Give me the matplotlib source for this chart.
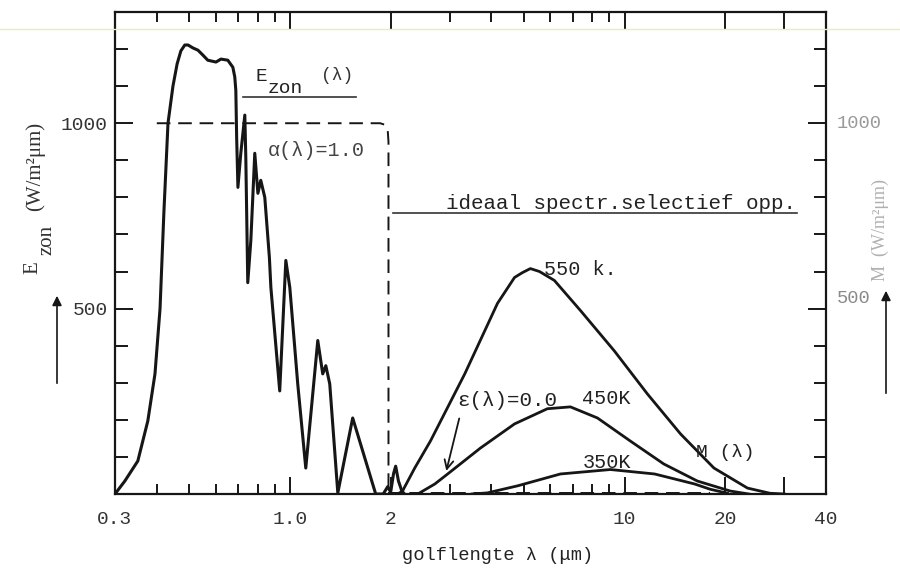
import matplotlib.pyplot as plt
from matplotlib.lines import Line2D

plt.rcParams['font.family'] = ['Liberation Mono', 'DejaVu Sans']

# solar spectrum E_zon (W/m2 um)
sun_lam = [0.300, 0.321, 0.351, 0.376, 0.395, 0.409, 0.420, 0.432, 0.447, 0.460,
           0.472, 0.485, 0.496, 0.513, 0.531, 0.549, 0.568, 0.601, 0.622, 0.652,
           0.675, 0.684, 0.689, 0.693, 0.699, 0.713, 0.733, 0.738, 0.748, 0.764,
           0.785, 0.802, 0.818, 0.841, 0.868, 0.877, 0.932, 0.972, 0.999, 1.055,
           1.115, 1.211, 1.253, 1.280, 1.315, 1.390, 1.540, 1.804, 1.900, 1.960,
           2.000, 2.040, 2.070, 2.110, 2.160, 2.200]
sun_val = [0, 35, 89, 197, 324, 500, 760, 1000, 1100, 1160,
           1195, 1211, 1211, 1203, 1197, 1184, 1170, 1165, 1173, 1170,
           1151, 1125, 1089, 960, 827, 919, 1022, 908, 570, 684,
           919, 811, 846, 800, 638, 557, 278, 630, 557, 297,
           70, 414, 324, 346, 297, 3, 205, 0, 0, 20,
           5, 55, 75, 35, 8, 0]

# ideal selective surface: alpha = 1.0 below ~2 um, eps = 0.0 above
alpha_lam = [0.40, 1.86, 1.92, 1.96, 1.97, 1.97]
alpha_val = [1000, 1000, 996, 980, 950, 0]
eps_lam = [1.97, 18.0]
eps_val = [4, 4]

# black body emission M(lambda)
bb550_lam = [2.10, 2.17, 2.36, 2.63, 3.33, 4.17, 4.69, 4.95, 5.23, 5.57, 6.17,
             7.38, 9.32, 11.7, 14.7, 18.5, 23.3, 27.2, 30.0]
bb550_val = [0, 8, 70, 143, 324, 514, 584, 597, 608, 600, 576,
             495, 386, 270, 162, 70, 16, 2, 0]
bb450_lam = [2.41, 2.71, 2.96, 3.71, 4.69, 5.88, 6.89, 8.3, 10.4, 13.1, 16.5, 20.7, 23.5]
bb450_val = [0, 27, 54, 124, 189, 230, 235, 205, 143, 81, 35, 8, 0]
bb350_lam = [3.5, 3.89, 4.79, 6.43, 9.07, 12.3, 16.2, 18.0, 20.3]
bb350_val = [0, 3, 22, 54, 66, 54, 27, 13, 2]

x_major = [0.3, 1, 2, 10, 20, 30, 40]
x_labels = ['0.3', '1.0', '2', '10', '20', '', '40']
x_minor = [0.4, 0.5, 0.6, 0.7, 0.8, 0.9, 3, 4, 5, 6, 7, 8, 9]

ink = '#161616'
fig = plt.figure(figsize=(9, 5.73), dpi=100)
ax = fig.add_axes([115 / 900, 79 / 573, 711 / 900, 482 / 573])

ax.plot(sun_lam, sun_val, color=ink, lw=2.2, solid_joinstyle='round')
ax.plot(alpha_lam, alpha_val, color=ink, lw=1.4, ls=(0, (7, 4)))
ax.plot(eps_lam, eps_val, color=ink, lw=1.4, ls=(0, (7, 4)))
ax.plot(bb550_lam, bb550_val, color=ink, lw=2.0)
ax.plot(bb450_lam, bb450_val, color=ink, lw=2.0)
ax.plot(bb350_lam, bb350_val, color=ink, lw=2.0)

ax.set_xscale('log')
ax.set_xlim(0.3, 40)
ax.set_ylim(0, 1300)
ax.set_xticks(x_major, x_labels)
ax.set_xticks(x_minor, minor=True)
ax.xaxis.set_minor_formatter(plt.NullFormatter())
ax.set_yticks([500, 1000], ['500', '1000'])
ax.set_yticks(range(100, 1300, 100), minor=True)

ax.tick_params(which='both', direction='in', top=True, right=True, width=1.4, color=ink)
ax.tick_params(axis='x', which='major', length=12, pad=12, labelsize=14, labelcolor='#333333')
ax.tick_params(axis='x', which='minor', length=7)
ax.tick_params(axis='y', which='major', length=13, pad=5, labelsize=14, labelcolor='#333333')
ax.tick_params(axis='y', which='minor', length=9)
for s in ax.spines.values():
    s.set_linewidth(1.6)
    s.set_color(ink)

# labels inside the plot
ax.text(0.791, 1127, 'E', fontsize=14, va='center', color='#222222')
ax.text(0.859, 1093, 'zon', fontsize=14, va='center', color='#222222')
ax.text(1.236, 1130, '(λ)', fontsize=13, va='center', color='#333333')
ax.plot([0.723, 1.575], [1070, 1070], color='#333333', lw=1.2)
ax.text(0.859, 927, 'α(λ)=1.0', fontsize=14.5, va='center', color='#444444')
ax.text(2.92, 784, 'ideaal spectr.selectief opp.', fontsize=15, va='center', color='#222222')
ax.plot([2.03, 32.8], [757, 757], color='#333333', lw=1.2)
ax.text(5.76, 605, '550 k.', fontsize=14.5, va='center', color='#222222')
ax.text(3.17, 251, 'ε(λ)=0.0', fontsize=15, va='center', color='#222222')
ax.text(7.48, 257, '450K', fontsize=14.5, va='center', color='#222222')
ax.text(7.48, 86, '350K', fontsize=14.5, va='center', color='#222222')
ax.text(16.3, 111, 'M (λ)', fontsize=14, va='center', color='#222222')
ax.annotate('', xy=(2.92, 55), xytext=(3.22, 211),
            arrowprops=dict(arrowstyle='->', color=ink, lw=1.3, mutation_scale=16))

# right hand scale (faint)
ytr = ax.get_yaxis_transform()
ax.text(1.015, 1000, '1000', transform=ytr, fontsize=13.5, va='center', color='#9a9a9a')
ax.text(1.015, 527, '500', transform=ytr, fontsize=13.5, va='center', color='#8a8a8a')

# axis titles
fig.text(498 / 900, 1 - 555 / 573, 'golflengte λ (μm)', fontsize=13.5, ha='center',
         va='center', color='#222222')
serif = 'Liberation Serif'
fig.text(33 / 900, 1 - 268 / 573, 'E', rotation=90, fontsize=15, ha='center',
         va='center', color='#333333', family=serif)
fig.text(47 / 900, 1 - 240 / 573, 'zon', rotation=90, fontsize=15, ha='center',
         va='center', color='#333333', family=serif)
fig.text(35 / 900, 1 - 166 / 573, '(W/m²μm)', rotation=90, fontsize=15, ha='center',
         va='center', color='#333333', family=serif)
fig.text(880 / 900, 1 - 230 / 573, 'M  (W/m²μm)', rotation=90,
         fontsize=13, ha='center', va='center', color='#b0b0b0', family=serif)
ax.annotate('', xy=(57 / 900, 1 - 293 / 573), xytext=(57 / 900, 1 - 386 / 573),
            xycoords='figure fraction', textcoords='figure fraction',
            arrowprops=dict(arrowstyle='-|>', color=ink, lw=1.2, mutation_scale=14))
ax.annotate('', xy=(886 / 900, 1 - 288 / 573), xytext=(886 / 900, 1 - 396 / 573),
            xycoords='figure fraction', textcoords='figure fraction',
            arrowprops=dict(arrowstyle='-|>', color=ink, lw=1.2, mutation_scale=14))

# faint scan line across the page
fig.add_artist(Line2D([0, 1], [1 - 29 / 573, 1 - 29 / 573], transform=fig.transFigure,
                      color='#e6ebc8', lw=1.0))

fig.savefig('out.png', dpi=100, facecolor='white')
